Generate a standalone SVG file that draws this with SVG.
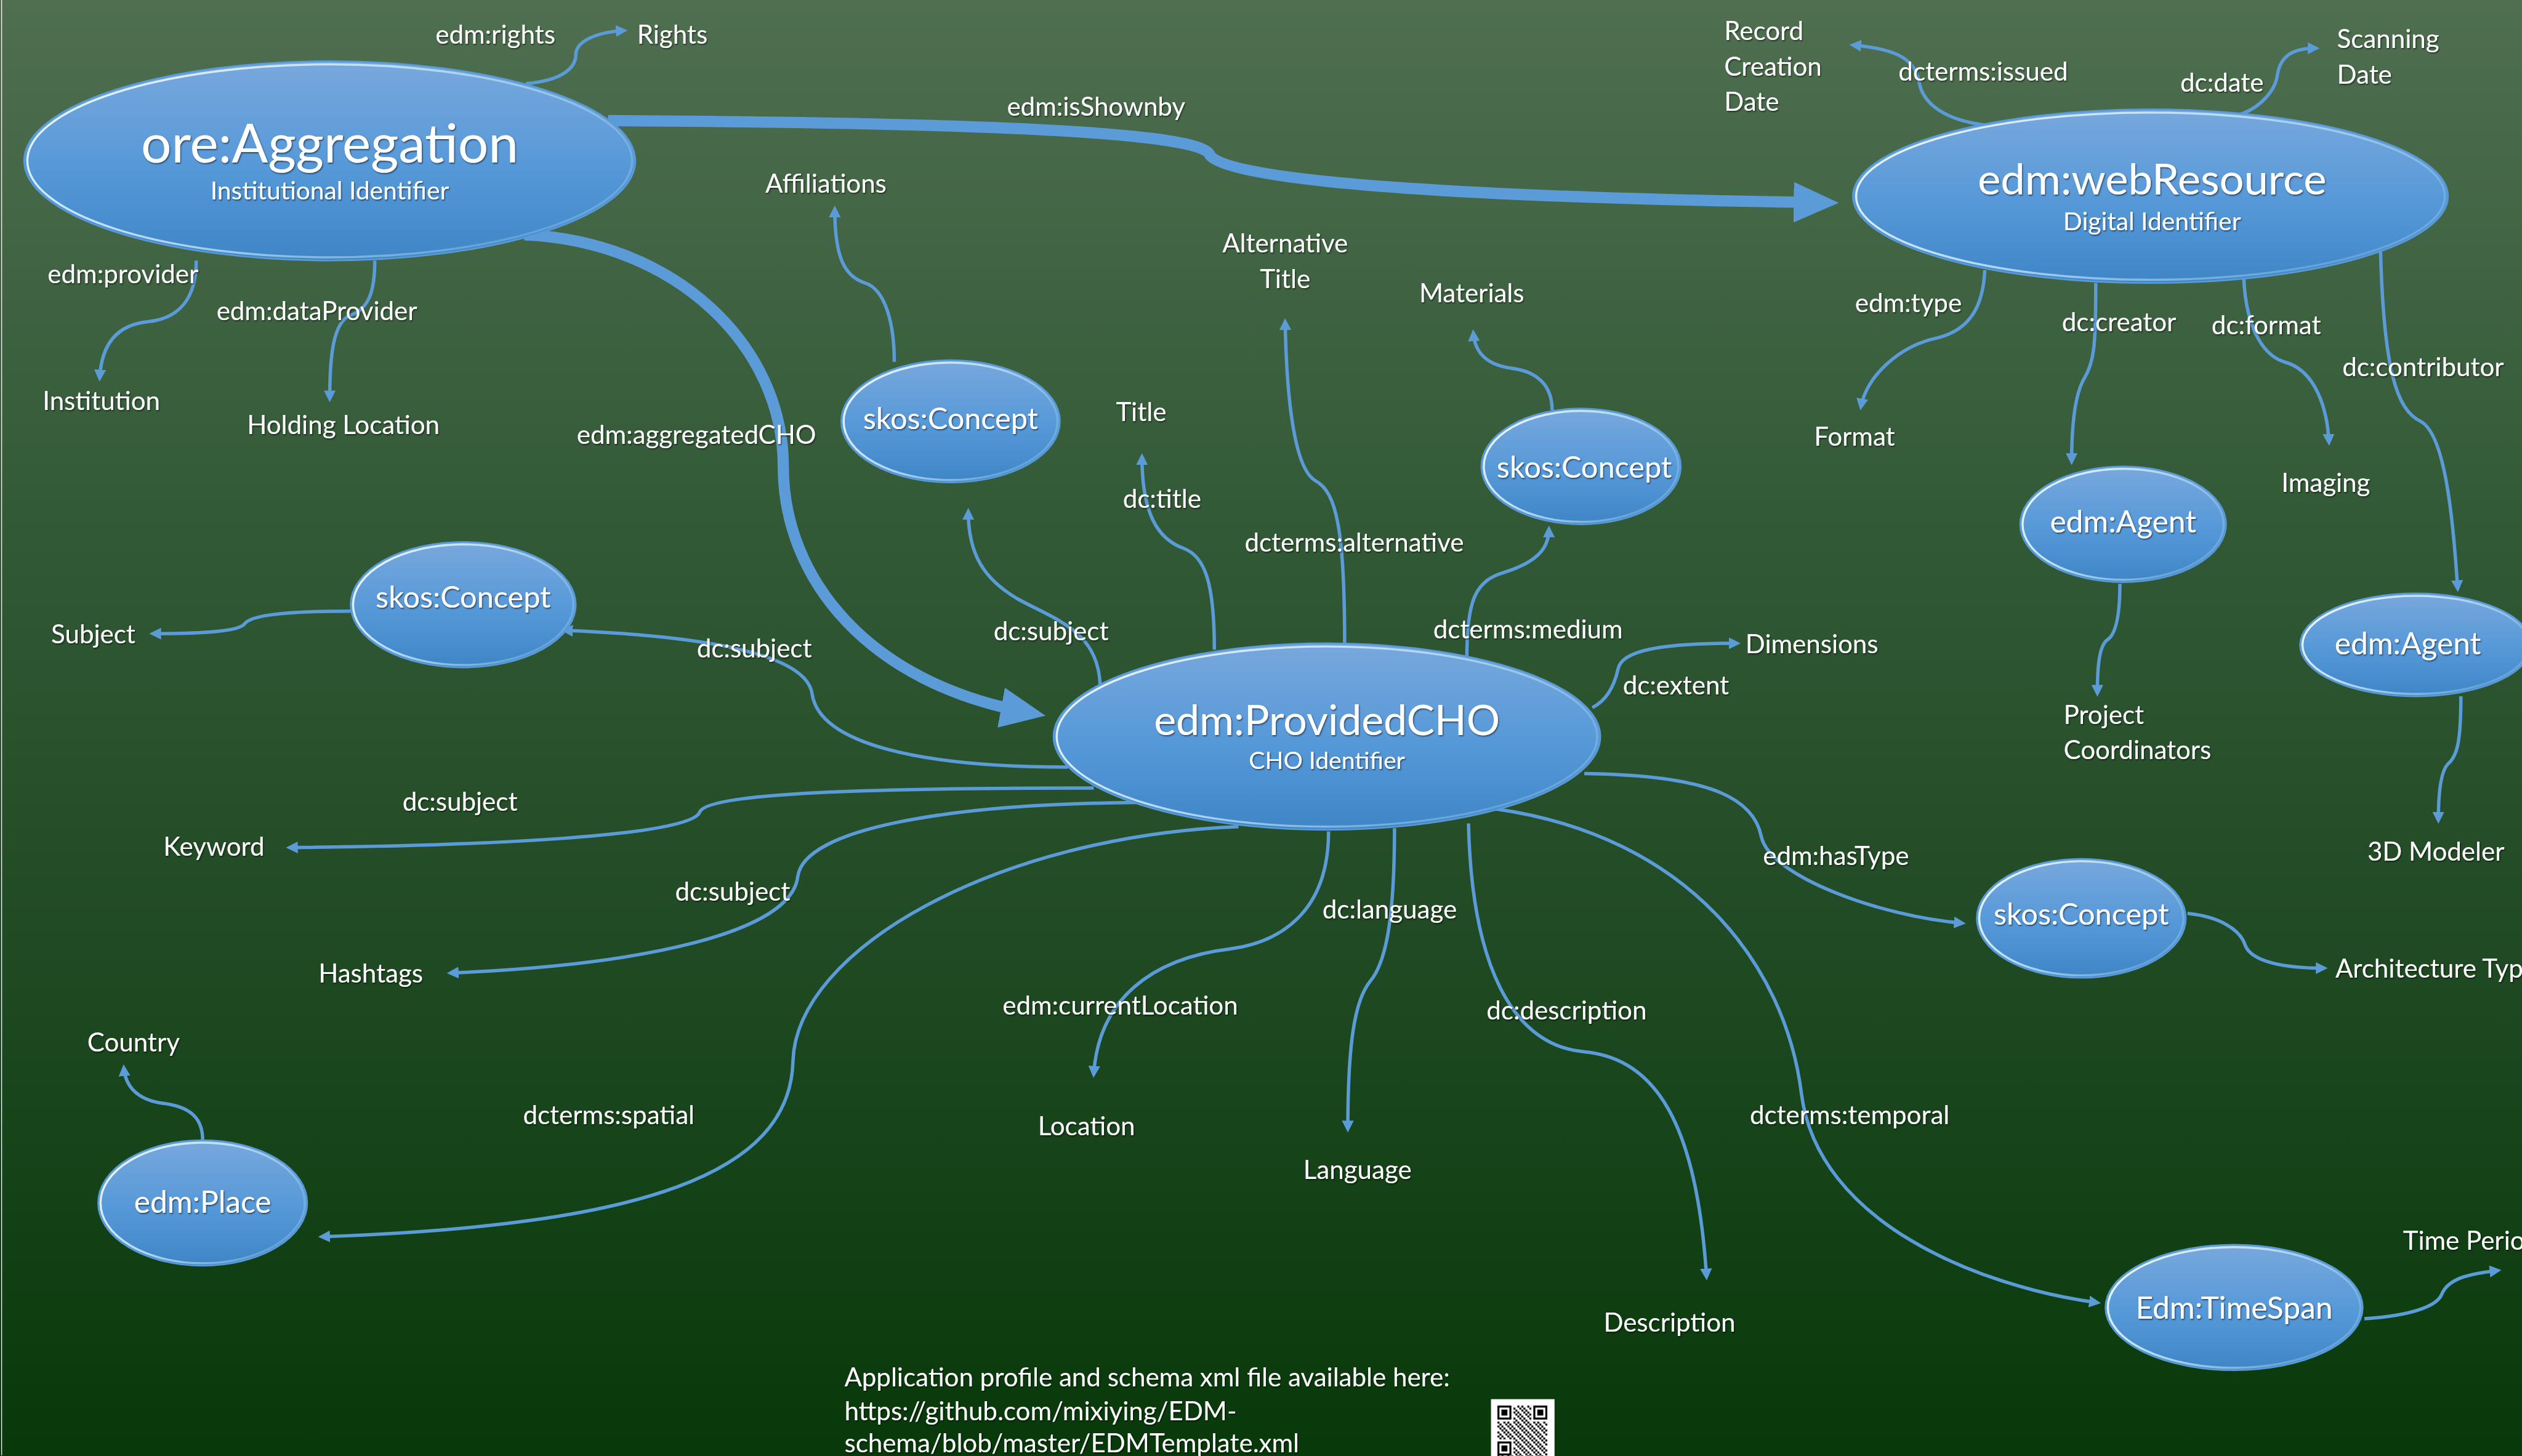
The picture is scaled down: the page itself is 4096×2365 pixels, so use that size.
<svg xmlns="http://www.w3.org/2000/svg" width="4096" height="2365" viewBox="0 0 4096 2365">
<defs>
<linearGradient id="bg" x1="0" y1="0" x2="0" y2="1">
<stop offset="0" stop-color="#4f6f50"/>
<stop offset="0.35" stop-color="#335a37"/>
<stop offset="0.65" stop-color="#204a23"/>
<stop offset="1" stop-color="#08390a"/>
</linearGradient>
<linearGradient id="nodeFill" x1="0" y1="0" x2="0" y2="1">
<stop offset="0" stop-color="#78a8dd"/>
<stop offset="0.55" stop-color="#5598d8"/>
<stop offset="1" stop-color="#3f86c7"/>
</linearGradient>
<linearGradient id="rim" x1="0" y1="0" x2="1" y2="0.4">
<stop offset="0" stop-color="#ffffff" stop-opacity="0.95"/>
<stop offset="0.5" stop-color="#d6f2ff" stop-opacity="0.75"/>
<stop offset="1" stop-color="#bfe8ff" stop-opacity="0.25"/>
</linearGradient>
<filter id="ts" x="-10%" y="-30%" width="120%" height="160%">
<feDropShadow dx="0.5" dy="0.7" stdDeviation="0.4" flood-color="#000" flood-opacity="0.55"/>
</filter>
<marker id="ah" markerUnits="strokeWidth" markerWidth="3.5" markerHeight="3.5" viewBox="0 0 10 10" refX="7" refY="5" orient="auto" preserveAspectRatio="none">
<path d="M0,0 L10,5 L0,10 z" fill="#5b9bd8"/>
</marker>
<marker id="ahb" markerUnits="strokeWidth" markerWidth="4" markerHeight="3.6" viewBox="0 0 10 10" refX="6" refY="5" orient="auto" preserveAspectRatio="none">
<path d="M0,0 L10,5 L0,10 z" fill="#5b9bd8"/>
</marker>
<pattern id="qrp" patternUnits="userSpaceOnUse" x="931" y="874" width="6.2" height="6.2">
<rect x="0" y="0" width="1.24" height="1.24" fill="#000"/>
<rect x="2.48" y="0" width="1.24" height="1.24" fill="#000"/>
<rect x="1.24" y="1.24" width="1.24" height="1.24" fill="#000"/>
<rect x="3.72" y="1.24" width="1.24" height="1.24" fill="#000"/>
<rect x="4.96" y="2.48" width="1.24" height="1.24" fill="#000"/>
<rect x="2.48" y="2.48" width="1.24" height="1.24" fill="#000"/>
<rect x="0" y="3.72" width="1.24" height="1.24" fill="#000"/>
<rect x="3.72" y="3.72" width="1.24" height="1.24" fill="#000"/>
<rect x="1.24" y="4.96" width="1.24" height="1.24" fill="#000"/>
<rect x="4.96" y="4.96" width="1.24" height="1.24" fill="#000"/>
</pattern>
<style>
.c{fill:none;stroke:#5b9bd8;stroke-width:2.1;marker-end:url(#ah)}
.cb{fill:none;stroke:#5b9bd8;stroke-width:7;marker-end:url(#ahb)}
.n{fill:url(#nodeFill);stroke:#5a9ad6;stroke-width:1}
.r{fill:none;stroke:url(#rim);stroke-width:1.3}
text{fill:#ffffff;font-family:Lato,"Open Sans","Noto Sans",sans-serif;filter:url(#ts)}
.l{font-size:16.1px}
.m{text-anchor:middle}
.s{font-size:18.6px;text-anchor:middle}
.big{font-size:26.5px;text-anchor:middle}
.sub{font-size:15.6px;text-anchor:middle}
</style>
</defs>
<rect x="0" y="0" width="4096" height="2365" fill="url(#bg)"/>
<g transform="scale(2.612245)">
<line x1="1" y1="0" x2="1" y2="905" stroke="#ffffff" stroke-width="0.5"/>
<g id="connectors">
<path class="cb" d="M378,75 C560,76 745,80 752,96 C760,114 930,123 1132,126"/>
<path class="cb" d="M326,146 C420,150 487,215 487,290 C487,360 540,425 639,443"/>
<path class="c" d="M327,52 C350,50 358,42 358,34 C358,26 370,20 388,19"/>
<path class="c" d="M122,162 C122,185 112,198 92,200 C72,202 63,215 62,235"/>
<path class="c" d="M233,162 C233,182 229,192 218,196 C207,200 205,222 205,248"/>
<path class="c" d="M556,225 C556,200 550,180 538,176 C525,172 519,160 519,130"/>
<path class="c" d="M684,428 C684,392 655,385 632,372 C612,360 602,345 602,318"/>
<path class="c" d="M755,404 C755,362 749,346 736,341 C719,335 710,318 710,284"/>
<path class="c" d="M836,400 C836,330 831,306 818,299 C805,292 800,250 799,200"/>
<path class="c" d="M912,408 C912,372 918,361 935,356 C954,350 963,342 963,329"/>
<path class="c" d="M965,255 C965,240 956,231 940,229 C925,227 917,220 916,207"/>
<path class="c" d="M990,440 C1000,435 1004,425 1006,416 C1008,405 1030,400 1080,400"/>
<path class="c" d="M664,477 C570,477 510,462 505,432 C502,405 430,395 351,392"/>
<path class="c" d="M218,380 C182,380 156,382 152,388 C148,393 122,394 95,394"/>
<path class="c" d="M680,490 C560,490 440,492 435,505 C430,520 300,526 180,527"/>
<path class="c" d="M706,499 C590,500 500,515 496,545 C492,580 400,600 280,605"/>
<path class="c" d="M770,514 C620,520 495,590 493,660 C491,730 400,762 200,769"/>
<path class="c" d="M126,709 C126,695 118,688 101,686 C86,684 78,676 77,664"/>
<path class="c" d="M826,517 C826,568 795,586 765,590 C715,596 683,622 680,668"/>
<path class="c" d="M867,515 C867,570 862,598 852,610 C842,622 838,650 838,702"/>
<path class="c" d="M913,512 C915,600 940,650 985,654 C1030,658 1055,700 1061,794"/>
<path class="c" d="M930,503 C1050,520 1110,600 1120,680 C1130,760 1230,800 1304,810"/>
<path class="c" d="M985,481 C1060,482 1090,495 1095,520 C1100,545 1170,570 1220,574"/>
<path class="c" d="M1360,568 C1380,570 1393,578 1396,588 C1400,598 1420,602 1445,602"/>
<path class="c" d="M1470,820 C1500,818 1515,812 1518,805 C1522,795 1535,792 1553,790"/>
<path class="c" d="M1236,78 C1210,75 1195,65 1193,50 C1190,35 1175,30 1152,28"/>
<path class="c" d="M1390,72 C1405,68 1415,56 1416,46 C1418,35 1425,30 1440,30"/>
<path class="c" d="M1234,168 C1233,190 1225,205 1205,210 C1180,215 1160,235 1157,253"/>
<path class="c" d="M1303,176 C1303,215 1302,225 1296,235 C1290,245 1288,265 1288,287"/>
<path class="c" d="M1395,172 C1396,200 1405,220 1420,225 C1440,230 1447,255 1448,275"/>
<path class="c" d="M1480,155 C1482,230 1490,255 1505,262 C1520,270 1525,320 1528,366"/>
<path class="c" d="M1318,363 C1318,385 1315,395 1310,398 C1305,402 1304,415 1304,431"/>
<path class="c" d="M1530,433 C1530,460 1528,470 1522,475 C1517,480 1516,495 1516,510"/>
</g>
<g id="node-aggregation">
<ellipse class="n" cx="205" cy="100" rx="190" ry="62"/>
<ellipse class="r" cx="205" cy="100" rx="188" ry="60"/>
<text x="205" y="101" style="font-size:33.4px;text-anchor:middle">ore:Aggregation</text>
<text class="sub" x="205" y="124">Institutional Identifier</text>
</g>
<g id="node-webresource">
<ellipse class="n" cx="1337" cy="122" rx="185" ry="54"/>
<ellipse class="r" cx="1337" cy="122" rx="183" ry="52"/>
<text class="big" x="1338" y="121" style="font-size:27px">edm:webResource</text>
<text class="sub" x="1338" y="143">Digital Identifier</text>
</g>
<g id="node-providedcho">
<ellipse class="n" cx="825" cy="458" rx="170" ry="58"/>
<ellipse class="r" cx="825" cy="458" rx="168" ry="56"/>
<text class="big" x="825" y="457" style="font-size:26px">edm:ProvidedCHO</text>
<text class="sub" x="825" y="478" style="font-size:15px">CHO Identifier</text>
</g>
<g id="node-concept-affiliations">
<ellipse class="n" cx="591" cy="262" rx="68" ry="38"/>
<ellipse class="r" cx="591" cy="262" rx="66.5" ry="36.5"/>
<text class="s" x="591" y="267">skos:Concept</text>
</g>
<g id="node-concept-materials">
<ellipse class="n" cx="983" cy="290" rx="62" ry="36"/>
<ellipse class="r" cx="983" cy="290" rx="60.5" ry="34.5"/>
<text class="s" x="985" y="297">skos:Concept</text>
</g>
<g id="node-concept-subject">
<ellipse class="n" cx="288" cy="376" rx="70" ry="39"/>
<ellipse class="r" cx="288" cy="376" rx="68.5" ry="37.5"/>
<text class="s" x="288" y="378">skos:Concept</text>
</g>
<g id="node-concept-architecture">
<ellipse class="n" cx="1294" cy="571" rx="65" ry="37"/>
<ellipse class="r" cx="1294" cy="571" rx="63.5" ry="35.5"/>
<text class="s" x="1294" y="575">skos:Concept</text>
</g>
<g id="node-agent-creator">
<ellipse class="n" cx="1320" cy="326" rx="64" ry="36"/>
<ellipse class="r" cx="1320" cy="326" rx="62.5" ry="34.5"/>
<text class="s" x="1320" y="331" style="font-size:19px">edm:Agent</text>
</g>
<g id="node-agent-contributor">
<ellipse class="n" cx="1502" cy="401" rx="72" ry="32"/>
<ellipse class="r" cx="1502" cy="401" rx="70.5" ry="30.5"/>
<text class="s" x="1497" y="407" style="font-size:19px">edm:Agent</text>
</g>
<g id="node-place">
<ellipse class="n" cx="126" cy="748" rx="65" ry="39"/>
<ellipse class="r" cx="126" cy="748" rx="63.5" ry="37.5"/>
<text class="s" x="126" y="754" style="font-size:19px">edm:Place</text>
</g>
<g id="node-timespan">
<ellipse class="n" cx="1389" cy="813" rx="80" ry="39"/>
<ellipse class="r" cx="1389" cy="813" rx="78.5" ry="37.5"/>
<text class="s" x="1389" y="820" style="font-size:19px">Edm:TimeSpan</text>
</g>
<g id="edge-labels">
<text class="l m" x="308" y="27">edm:rights</text>
<text class="l m" x="681.5" y="72">edm:isShownby</text>
<text class="l m" x="76.5" y="176">edm:provider</text>
<text class="l m" x="197" y="199">edm:dataProvider</text>
<text class="l m" x="433" y="276">edm:aggregatedCHO</text>
<text class="l m" x="722.5" y="316">dc:title</text>
<text class="l m" x="842" y="343">dcterms:alternative</text>
<text class="l m" x="950" y="397">dcterms:medium</text>
<text class="l m" x="653.5" y="398">dc:subject</text>
<text class="l m" x="1042" y="432">dc:extent</text>
<text class="l m" x="469" y="409">dc:subject</text>
<text class="l m" x="286" y="504">dc:subject</text>
<text class="l m" x="455.5" y="560">dc:subject</text>
<text class="l m" x="864" y="571">dc:language</text>
<text class="l m" x="696.5" y="631">edm:currentLocation</text>
<text class="l m" x="974" y="634">dc:description</text>
<text class="l m" x="378.5" y="699">dcterms:spatial</text>
<text class="l m" x="1150" y="699">dcterms:temporal</text>
<text class="l m" x="1141.5" y="538">edm:hasType</text>
<text class="l m" x="1233" y="50">dcterms:issued</text>
<text class="l m" x="1381.5" y="57">dc:date</text>
<text class="l m" x="1186.5" y="194">edm:type</text>
<text class="l m" x="1317.5" y="206">dc:creator</text>
<text class="l m" x="1409" y="208">dc:format</text>
<text class="l m" x="1506.5" y="234">dc:contributor</text>
</g>
<g id="value-rights"><text class="l m" x="418" y="27">Rights</text></g>
<g id="value-affiliations"><text class="l m" x="513.5" y="120">Affiliations</text></g>
<g id="value-institution"><text class="l m" x="63" y="255">Institution</text></g>
<g id="value-holding-location"><text class="l m" x="213.5" y="270">Holding Location</text></g>
<g id="value-alternative-title"><text class="l m" x="799" y="157">Alternative</text><text class="l m" x="799" y="179">Title</text></g>
<g id="value-materials"><text class="l m" x="915" y="188">Materials</text></g>
<g id="value-title"><text class="l m" x="709.5" y="262">Title</text></g>
<g id="value-dimensions"><text class="l m" x="1126.5" y="406">Dimensions</text></g>
<g id="value-subject"><text class="l m" x="58" y="400">Subject</text></g>
<g id="value-keyword"><text class="l m" x="133" y="532">Keyword</text></g>
<g id="value-hashtags"><text class="l m" x="230.5" y="611">Hashtags</text></g>
<g id="value-country"><text class="l m" x="83" y="654">Country</text></g>
<g id="value-location"><text class="l m" x="675.5" y="706">Location</text></g>
<g id="value-language"><text class="l m" x="844" y="733">Language</text></g>
<g id="value-description"><text class="l m" x="1038" y="828">Description</text></g>
<g id="value-architecture-type"><text class="l" x="1452" y="608">Architecture Type</text></g>
<g id="value-time-period"><text class="l" x="1494" y="777">Time Period</text></g>
<g id="value-record-creation-date"><text class="l" x="1072" y="25">Record</text><text class="l" x="1072" y="47">Creation</text><text class="l" x="1072" y="69">Date</text></g>
<g id="value-scanning-date"><text class="l" x="1453" y="30">Scanning</text><text class="l" x="1453" y="52">Date</text></g>
<g id="value-format"><text class="l m" x="1153" y="277">Format</text></g>
<g id="value-imaging"><text class="l m" x="1446" y="306">Imaging</text></g>
<g id="value-project-coordinators"><text class="l" x="1283" y="450">Project</text><text class="l" x="1283" y="472">Coordinators</text></g>
<g id="value-3d-modeler"><text class="l m" x="1514.5" y="535">3D Modeler</text></g>
<g id="footer">
<text class="l" x="525" y="862">Application profile and schema xml file available here:</text>
<text class="l" x="525" y="883">https://github.com/mixiying/EDM-</text>
<text class="l" x="525" y="903">schema/blob/master/EDMTemplate.xml</text>
</g>
<g id="qr-code">
<rect x="927" y="870" width="39.5" height="40" fill="#ffffff"/>
<rect x="931" y="874" width="31" height="36" fill="url(#qrp)"/>
<rect x="931" y="874" width="9.92" height="9.92" fill="#ffffff"/>
<rect x="931" y="874" width="8.68" height="8.68" fill="#000"/>
<rect x="932.24" y="875.24" width="6.2" height="6.2" fill="#ffffff"/>
<rect x="933.48" y="876.48" width="3.72" height="3.72" fill="#000"/>
<rect x="952.08" y="874" width="9.92" height="9.92" fill="#ffffff"/>
<rect x="953.32" y="874" width="8.68" height="8.68" fill="#000"/>
<rect x="954.56" y="875.24" width="6.2" height="6.2" fill="#ffffff"/>
<rect x="955.8" y="876.48" width="3.72" height="3.72" fill="#000"/>
<rect x="931" y="895.08" width="9.92" height="9.92" fill="#ffffff"/>
<rect x="931" y="896.32" width="8.68" height="8.68" fill="#000"/>
<rect x="932.24" y="897.56" width="6.2" height="6.2" fill="#ffffff"/>
<rect x="933.48" y="898.8" width="3.72" height="3.72" fill="#000"/>
</g>
</g>
</svg>
